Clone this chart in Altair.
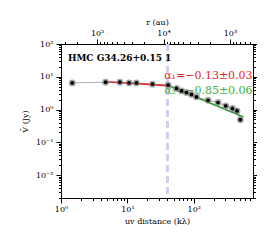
import altair as alt
import pandas as pd

# data
uv = [1.48, 4.7, 7.7, 10.6, 13.7, 23.9, 41.1, 55, 65.3, 77.6, 92.3, 110, 164, 232, 303, 382, 448, 504]
vis = [6.5, 6.84, 6.84, 6.5, 6.5, 5.94, 5.53, 4.39, 3.71, 3.31, 2.88, 2.43, 1.92, 1.64, 1.29, 1.07, 0.906, 0.49]
err_uv = [382, 448]
err_lo = [0.85, 0.75]
err_hi = [1.35, 1.1]
fit1_uv = [4.7, 40.2]
fit1_v = [7.08, 5.36]
fit2_uv = [40.2, 560]
fit2_v = [5.53, 0.59]
break_uv = 40.2
title_txt = "HMC G34.26+0.15 1"
alpha1_txt = "α₁=−0.13±0.03"
alpha2_txt = "α₂=−0.85±0.06"
R_CONST = 3.5e5  # r(au) = R_CONST / uv(kλ)

XDOM = [1, 780]
YDOM = [0.002, 100]
FONT = "DejaVu Serif"
sup = {-2: "⁻²", -1: "⁻¹", 0: "⁰", 1: "¹", 2: "²", 3: "³", 4: "⁴", 5: "⁵"}


def log_ticks(lo, hi):
    vals = []
    for e in range(-4, 7):
        for k in range(1, 10):
            v = round(k * 10.0 ** e, 10)
            if lo <= v <= hi:
                vals.append(v)
    return vals


def label_expr(exps):
    s = ""
    for e in exps:
        s += f"datum.value == {repr(round(10.0 ** e, 10))} ? '10{sup[e]}' : "
    return s + "''"


def tick_cond(exps):
    arr = ",".join(repr(round(10.0 ** e, 10)) for e in exps)
    return {"condition": {"test": f"indexof([{arr}], datum.value) >= 0", "value": 5}, "value": 2.5}


df = pd.DataFrame({"uv": uv, "v": vis})
df_err = pd.DataFrame({"uv": err_uv, "lo": err_lo, "hi": err_hi})
df_f1 = pd.DataFrame({"uv": fit1_uv, "v": fit1_v})
df_f2 = pd.DataFrame({"uv": fit2_uv, "v": fit2_v})
df_txt = pd.DataFrame({
    "uv": [1.27, 770, 770],
    "v": [38, 10.6, 3.6],
    "t": [title_txt, alpha1_txt, alpha2_txt],
})

xsc = alt.Scale(type="log", domain=XDOM, nice=False)
ysc = alt.Scale(type="log", domain=YDOM, nice=False)
xax = alt.Axis(
    title="uv distance (kλ)", values=log_ticks(*XDOM), labelExpr=label_expr([0, 1, 2]),
    tickSize=tick_cond([0, 1, 2]), grid=False, labelFont=FONT, titleFont=FONT,
    labelFontSize=8, titleFontSize=8, titleFontWeight="normal", labelFlush=False,
    domainColor="black", tickColor="black", labelPadding=2, titlePadding=4,
)
yax = alt.Axis(
    title="V̄ (Jy)", values=log_ticks(*YDOM), labelExpr=label_expr([-2, -1, 0, 1, 2]),
    tickSize=tick_cond([-2, -1, 0, 1, 2]), grid=False, labelFont=FONT, titleFont=FONT,
    labelFontSize=8, titleFontSize=8, titleFontWeight="normal", labelFlush=False,
    domainColor="black", tickColor="black", labelPadding=3, titlePadding=6,
)
X = alt.X("uv:Q", scale=xsc, axis=xax)
Y = alt.Y("v:Q", scale=ysc, axis=yax)

base = alt.Chart(df)
gray_line = base.mark_line(color="#b0b0b0", strokeWidth=1).encode(x=X, y=Y)
fit1 = alt.Chart(df_f1).mark_line(color="#e8292b", strokeWidth=1.6).encode(x=X, y=Y)
fit2 = alt.Chart(df_f2).mark_line(color="#2ca02c", strokeWidth=1.6).encode(x=X, y=Y)
vline = alt.Chart(pd.DataFrame({"uv": [break_uv]})).mark_rule(
    color="#d8cdea", strokeWidth=3, strokeDash=[7, 4]).encode(x=X)
errs = alt.Chart(df_err).mark_rule(color="#666666", strokeWidth=0.8).encode(
    x=X, y=alt.Y("lo:Q", scale=ysc, axis=yax), y2="hi:Q")
halo = base.mark_circle(color="#8a8a8a", opacity=0.75, size=48).encode(x=X, y=Y)
dots = base.mark_circle(color="black", opacity=1, size=14).encode(x=X, y=Y)

txt_title = alt.Chart(df_txt.iloc[[0]]).mark_text(
    align="left", baseline="middle", font=FONT, fontSize=9, fontWeight="bold", color="black"
).encode(x=X, y=Y, text="t:N")
txt_a1 = alt.Chart(df_txt.iloc[[1]]).mark_text(
    align="right", baseline="middle", font=FONT, fontSize=11, color="#e8292b"
).encode(x=X, y=Y, text="t:N")
txt_a2 = alt.Chart(df_txt.iloc[[2]]).mark_text(
    align="right", baseline="middle", font=FONT, fontSize=11, color="#3cb43c"
).encode(x=X, y=Y, text="t:N")

main = alt.layer(vline, gray_line, fit1, fit2, txt_title, txt_a1, txt_a2, errs, halo, dots)

# top axis (r in au) and right axis ticks
r_dom = [R_CONST / XDOM[1], R_CONST / XDOM[0]]
top = alt.Chart(df).transform_calculate(r=f"{R_CONST} / datum.uv").mark_point(opacity=0).encode(
    x=alt.X("r:Q", scale=alt.Scale(type="log", domain=r_dom, reverse=True, nice=False),
            axis=alt.Axis(orient="top", title="r (au)", values=log_ticks(*r_dom),
                          labelExpr=label_expr([3, 4, 5]), tickSize=tick_cond([3, 4, 5]),
                          grid=False, labelFont=FONT, titleFont=FONT, labelFontSize=8,
                          titleFontSize=8, titleFontWeight="normal", labelFlush=False,
                          domainColor="black", tickColor="black", labelPadding=2, titlePadding=3)),
    y=alt.Y("v:Q", scale=ysc,
            axis=alt.Axis(orient="right", title=None, labels=False, values=log_ticks(*YDOM),
                          tickSize=tick_cond([-2, -1, 0, 1, 2]), grid=False,
                          domainColor="black", tickColor="black")),
)

chart = alt.layer(main, top).resolve_scale(x="independent", y="independent").properties(
    width=192, height=154,
    autosize=alt.AutoSizeParams(type="none"),
    padding={"left": 53, "top": 36, "right": 4, "bottom": 30},
).configure_view(stroke="black", strokeWidth=1)

chart.save("out.html", embed_options={"renderer": "svg", "actions": False})
